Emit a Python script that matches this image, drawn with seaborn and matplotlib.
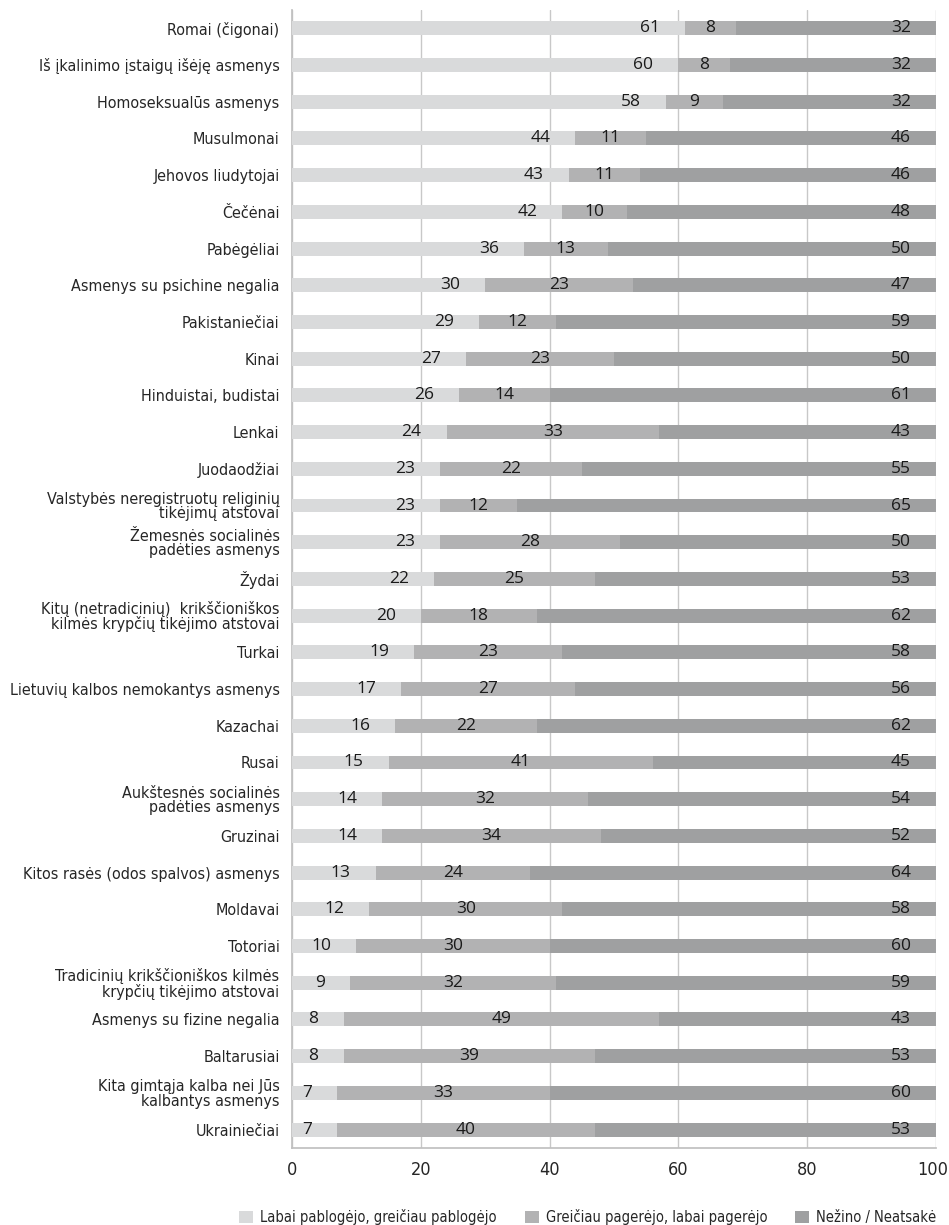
import numpy as np
import pandas as pd
import matplotlib.pyplot as plt
import matplotlib.transforms as mtransforms
import seaborn as sns
from matplotlib.patches import Patch

# categories, top to bottom
groups = [
    "Romai (čigonai)",
    "Iš įkalinimo įstaigų išėję asmenys",
    "Homoseksualūs asmenys",
    "Musulmonai",
    "Jehovos liudytojai",
    "Čečėnai",
    "Pabėgėliai",
    "Asmenys su psichine negalia",
    "Pakistaniečiai",
    "Kinai",
    "Hinduistai, budistai",
    "Lenkai",
    "Juodaodžiai",
    "Valstybės neregistruotų religinių\ntikėjimų atstovai",
    "Žemesnės socialinės\npadėties asmenys",
    "Žydai",
    "Kitų (netradicinių)  krikščioniškos\nkilmės krypčių tikėjimo atstovai",
    "Turkai",
    "Lietuvių kalbos nemokantys asmenys",
    "Kazachai",
    "Rusai",
    "Aukštesnės socialinės\npadėties asmenys",
    "Gruzinai",
    "Kitos rasės (odos spalvos) asmenys",
    "Moldavai",
    "Totoriai",
    "Tradicinių krikščioniškos kilmės\nkrypčių tikėjimo atstovai",
    "Asmenys su fizine negalia",
    "Baltarusiai",
    "Kita gimtąja kalba nei Jūs\nkalbantys asmenys",
    "Ukrainiečiai",
]
worse = [61, 60, 58, 44, 43, 42, 36, 30, 29, 27, 26, 24, 23, 23, 23, 22, 20, 19,
         17, 16, 15, 14, 14, 13, 12, 10, 9, 8, 8, 7, 7]
better = [8, 8, 9, 11, 11, 10, 13, 23, 12, 23, 14, 33, 22, 12, 28, 25, 18, 23,
          27, 22, 41, 32, 34, 24, 30, 30, 32, 49, 39, 33, 40]
unknown = [32, 32, 32, 46, 46, 48, 50, 47, 59, 50, 61, 43, 55, 65, 50, 53, 62, 58,
           56, 62, 45, 54, 52, 64, 58, 60, 59, 43, 53, 60, 53]
series_names = ["Labai pablogėjo, greičiau pablogėjo",
                "Greičiau pagerėjo, labai pagerėjo",
                "Nežino / Neatsakė"]

colors = ["#d9dadb", "#b2b2b3", "#9fa0a1"]
num_font = ["Open Sans", "DejaVu Sans"]

df = pd.DataFrame({"group": groups, "worse": worse, "better": better, "unknown": unknown})
df["c1"] = df["worse"]
df["c2"] = df["worse"] + df["better"]
df["total"] = 100  # shares add up to the whole

sns.set_theme(style="white")
plt.rcParams["font.family"] = ["DejaVu Sans"]
plt.rcParams["font.stretch"] = "condensed"

fig = plt.figure(figsize=(9.49, 12.25), dpi=100)
ax = fig.add_axes([0.3077, 0.0629, 0.6786, 0.929])

w = 0.38
sns.barplot(data=df, x="total", y="group", color=colors[2], width=w, saturation=1,
            orient="h", ax=ax, zorder=2)
sns.barplot(data=df, x="c2", y="group", color=colors[1], width=w, saturation=1,
            orient="h", ax=ax, zorder=3)
sns.barplot(data=df, x="c1", y="group", color=colors[0], width=w, saturation=1,
            orient="h", ax=ax, zorder=4)
for p in ax.patches:
    p.set_linewidth(0)

# value labels
lab = dict(fontsize=12.5, family=num_font, stretch="normal", color="#1a1a1a", zorder=6,
           textcoords="offset points", va="center")
for i, r in df.iterrows():
    ax.annotate(str(r["worse"]), (r["c1"], i), xytext=(-18, 0), ha="right", **lab)
    ax.annotate(str(r["better"]), ((r["c1"] + r["c2"]) / 2, i), xytext=(0, 0), ha="center", **lab)
    ax.annotate(str(r["unknown"]), (r["total"], i), xytext=(-18, 0), ha="right", **lab)

n = len(groups)
ax.set_xlim(0, 100)
ax.set_ylim(n - 0.5, -0.5)
ax.set_xticks([0, 20, 40, 60, 80, 100])
ax.tick_params(axis="x", labelsize=13, length=6.5, color="#c0c0c0", pad=3, direction="out")
ax.grid(axis="x", color="#c8c8c8", linewidth=1, zorder=0)
ax.set_axisbelow(True)

# keep the "100" label inside the canvas
last = ax.get_xticklabels()[-1]
last.set_horizontalalignment("right")
last.set_transform(last.get_transform() +
                   mtransforms.ScaledTranslation(12 / 100, 0, fig.dpi_scale_trans))

ax.set_yticks(range(n))
ax.set_yticklabels(groups, fontsize=11.5, linespacing=0.95)
ax.set_yticks(np.arange(-0.5, n, 1), minor=True)
ax.tick_params(axis="y", which="major", length=0, pad=9)
ax.tick_params(axis="y", which="minor", length=6, color="#c0c0c0", direction="out")
ax.set_xlabel("")
ax.set_ylabel("")

for s in ["top", "right"]:
    ax.spines[s].set_visible(False)
ax.spines["left"].set_color("#c0c0c0")
ax.spines["bottom"].set_color("#c0c0c0")

handles = [Patch(facecolor=c, edgecolor="none") for c in colors]
fig.legend(handles, series_names, loc="center right", bbox_to_anchor=(0.987, 0.0065),
           ncol=3, frameon=False, fontsize=10.5, handlelength=0.95, handleheight=0.95,
           handletextpad=0.5, columnspacing=1.9, borderpad=0, borderaxespad=0)

fig.savefig("out.png", dpi=100)
